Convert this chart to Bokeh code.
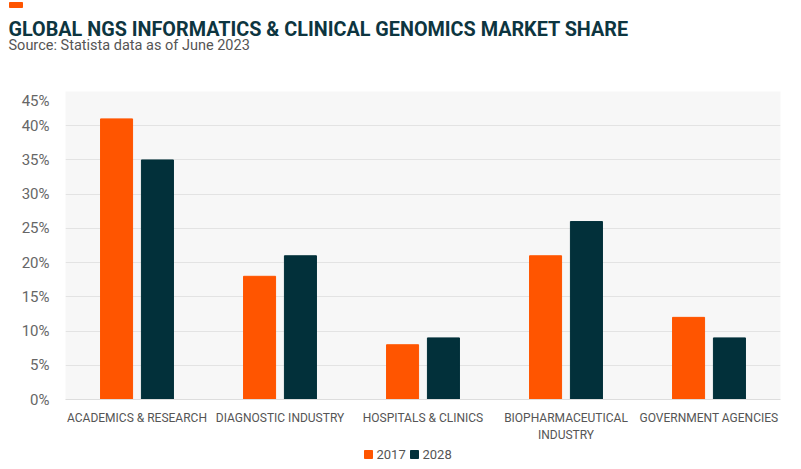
from bokeh.plotting import figure
from bokeh.layouts import column
from bokeh.models import (ColumnDataSource, FactorRange, FixedTicker, PrintfTickFormatter)
from bokeh.core.properties import value
from bokeh.transform import dodge
from bokeh.embed import file_html
from bokeh.resources import INLINE

categories = ["ACADEMICS & RESEARCH", "DIAGNOSTIC INDUSTRY", "HOSPITALS & CLINICS",
              "BIOPHARMACEUTICAL\nINDUSTRY", "GOVERNMENT AGENCIES"]
share_2017 = [41, 18, 8, 21, 12]
share_2028 = [35, 21, 9, 26, 9]
series = ["2017", "2028"]
y_ticks = [0, 5, 10, 15, 20, 25, 30, 35, 40, 45]
title_text = "GLOBAL NGS INFORMATICS & CLINICAL GENOMICS MARKET SHARE"
subtitle_text = "Source: Statista data as of June 2023"

ORANGE = "#ff5500"
TEAL = "#02303a"
colors = [ORANGE, TEAL]

HEADER_H = 91
FRAME_H = 308
BOTTOM_B = 42
FOOTER_H = 469 - HEADER_H - FRAME_H - BOTTOM_B

# ---------- header ----------
h = figure(width=801, height=HEADER_H, x_range=(0, 801), y_range=(HEADER_H, 0),
           output_backend="svg", toolbar_location=None, title=None,
           min_border=0, x_axis_type=None, y_axis_type=None)
h.frame_align = False
h.outline_line_color = None
h.grid.grid_line_color = None
h.quad(left=[9], right=[22], top=[2], bottom=[7], color=ORANGE)
h.text(x=[8], y=[29], text=[title_text], text_font=value("Roboto"),
       text_font_size="19.8px", text_font_style="bold", text_color="#0d3540",
       text_baseline="alphabetic", text_align="left")
h.text(x=[8], y=[44.5], text=[subtitle_text], text_font=value("Roboto"),
       text_font_size="14.5px", text_color="#555555",
       text_baseline="alphabetic", text_align="left")

# ---------- chart ----------
src = ColumnDataSource(dict(cat=categories, a=share_2017, b=share_2028))

p = figure(x_range=FactorRange(*categories), y_range=(0, 45),
           frame_width=715, frame_height=FRAME_H,
           output_backend="svg", toolbar_location=None, title=None,
           min_border_left=65, min_border_right=21, min_border_top=0,
           min_border_bottom=BOTTOM_B)
p.frame_align = False

p.vbar(x=dodge("cat", -0.143, range=p.x_range), top="a", width=0.224, source=src,
       color=colors[0])
p.vbar(x=dodge("cat", 0.143, range=p.x_range), top="b", width=0.224, source=src,
       color=colors[1])

p.background_fill_color = "#f7f7f7"
p.border_fill_color = "white"
p.outline_line_color = None
p.xgrid.grid_line_color = None
p.ygrid.grid_line_color = "#e3e3e3"
p.ygrid.grid_line_width = 1

for ax in (p.xaxis[0], p.yaxis[0]):
    ax.major_tick_out = 0
    ax.major_tick_in = 0
    ax.minor_tick_out = 0
    ax.minor_tick_in = 0
    ax.major_tick_line_color = None
    ax.minor_tick_line_color = None
    ax.axis_label_standoff = 0

p.yaxis.ticker = FixedTicker(ticks=y_ticks)
p.yaxis.formatter = PrintfTickFormatter(format="%d%%")
p.yaxis.axis_line_color = None
p.yaxis.major_label_text_font = "Roboto"
p.yaxis.major_label_text_font_size = "15px"
p.yaxis.major_label_text_color = "#666666"
p.yaxis.major_label_standoff = 16

p.xaxis.axis_line_color = "#dddddd"
p.xaxis.major_label_text_font = "Roboto"
p.xaxis.major_label_text_font_size = "12px"
p.xaxis.major_label_text_color = "#555555"
p.xaxis.major_label_text_line_height = 1.25
p.xaxis.major_label_standoff = 11

# ---------- footer (legend) ----------
f = figure(width=801, height=FOOTER_H, x_range=(0, 801), y_range=(FOOTER_H, 0),
           output_backend="svg", toolbar_location=None, title=None,
           min_border=0, x_axis_type=None, y_axis_type=None)
f.frame_align = False
f.outline_line_color = None
f.grid.grid_line_color = None
leg_x = [364, 410]
f.quad(left=leg_x, right=[x + 8 for x in leg_x], top=[5] * 2, bottom=[13] * 2,
       color=colors)
f.text(x=[x + 12 for x in leg_x], y=[9] * 2, text=series, text_font=value("Roboto"),
       text_font_size="13px", text_color="#555555", text_baseline="middle",
       text_align="left")

layout = column(h, p, f, spacing=0)
open("out.html", "w").write(file_html(layout, INLINE))
